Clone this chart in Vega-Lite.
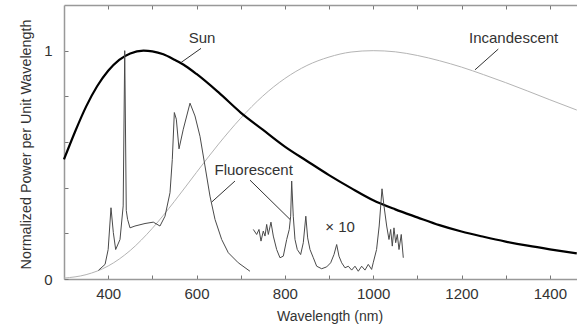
{
  "$schema": "https://vega.github.io/schema/vega-lite/v6.json",
  "width": 513,
  "height": 274,
  "autosize": {"type": "none"},
  "padding": {"left": 64, "top": 5, "right": 0, "bottom": 47},
  "background": "white",
  "config": {
    "view": {"stroke": null},
    "font": "Liberation Sans",
    "axis": {
      "grid": false,
      "domainColor": "#999999",
      "domainWidth": 1.5,
      "tickColor": "#777777",
      "tickWidth": 1,
      "tickSize": -4,
      "labelFont": "Liberation Sans",
      "labelFontSize": 15,
      "labelColor": "#333333",
      "titleFont": "Liberation Sans",
      "titleFontWeight": "normal",
      "titleColor": "#333333"
    }
  },
  "datasets": {
    "sun": [
      {"nm": 300, "val": 0.524}, {"nm": 325, "val": 0.645}, {"nm": 350, "val": 0.755},
      {"nm": 375, "val": 0.844}, {"nm": 400, "val": 0.912}, {"nm": 425, "val": 0.96},
      {"nm": 450, "val": 0.988}, {"nm": 480, "val": 1.0}, {"nm": 500, "val": 0.997},
      {"nm": 525, "val": 0.984}, {"nm": 550, "val": 0.96}, {"nm": 575, "val": 0.933},
      {"nm": 600, "val": 0.898}, {"nm": 650, "val": 0.817}, {"nm": 700, "val": 0.729},
      {"nm": 750, "val": 0.654}, {"nm": 800, "val": 0.58}, {"nm": 850, "val": 0.517},
      {"nm": 900, "val": 0.455}, {"nm": 950, "val": 0.398}, {"nm": 1000, "val": 0.345},
      {"nm": 1050, "val": 0.305}, {"nm": 1100, "val": 0.27}, {"nm": 1150, "val": 0.236},
      {"nm": 1200, "val": 0.208}, {"nm": 1250, "val": 0.185}, {"nm": 1300, "val": 0.164},
      {"nm": 1350, "val": 0.146}, {"nm": 1400, "val": 0.13}, {"nm": 1461, "val": 0.112}
    ],
    "inc": [
      {"nm": 300, "val": 0.004}, {"nm": 350, "val": 0.019}, {"nm": 400, "val": 0.057},
      {"nm": 450, "val": 0.125}, {"nm": 500, "val": 0.222}, {"nm": 550, "val": 0.34},
      {"nm": 600, "val": 0.467}, {"nm": 650, "val": 0.591}, {"nm": 700, "val": 0.704},
      {"nm": 750, "val": 0.801}, {"nm": 800, "val": 0.878}, {"nm": 850, "val": 0.935},
      {"nm": 900, "val": 0.972}, {"nm": 950, "val": 0.994}, {"nm": 1000, "val": 1.0},
      {"nm": 1050, "val": 0.995}, {"nm": 1100, "val": 0.979}, {"nm": 1150, "val": 0.956},
      {"nm": 1200, "val": 0.928}, {"nm": 1250, "val": 0.895}, {"nm": 1300, "val": 0.86},
      {"nm": 1350, "val": 0.823}, {"nm": 1400, "val": 0.785}, {"nm": 1461, "val": 0.74}
    ],
    "flu": [
      {"seg": "a", "nm": 378, "val": 0.038}, {"seg": "a", "nm": 393, "val": 0.064},
      {"seg": "a", "nm": 400, "val": 0.129}, {"seg": "a", "nm": 406.4, "val": 0.312},
      {"seg": "a", "nm": 411.7, "val": 0.203}, {"seg": "a", "nm": 417, "val": 0.129},
      {"seg": "a", "nm": 426.8, "val": 0.173}, {"seg": "a", "nm": 434, "val": 0.32},
      {"seg": "a", "nm": 437.5, "val": 1.0}, {"seg": "a", "nm": 441, "val": 0.3},
      {"seg": "a", "nm": 444, "val": 0.261}, {"seg": "a", "nm": 449.4, "val": 0.224},
      {"seg": "a", "nm": 460.7, "val": 0.232}, {"seg": "a", "nm": 483.4, "val": 0.243},
      {"seg": "a", "nm": 502.2, "val": 0.249}, {"seg": "a", "nm": 517.3, "val": 0.232},
      {"seg": "a", "nm": 528.7, "val": 0.275}, {"seg": "a", "nm": 540, "val": 0.378},
      {"seg": "a", "nm": 545.2, "val": 0.524}, {"seg": "a", "nm": 549.8, "val": 0.729},
      {"seg": "a", "nm": 554.3, "val": 0.7}, {"seg": "a", "nm": 560.4, "val": 0.57},
      {"seg": "a", "nm": 570.1, "val": 0.656}, {"seg": "a", "nm": 585.3, "val": 0.77},
      {"seg": "a", "nm": 596.6, "val": 0.714}, {"seg": "a", "nm": 607.9, "val": 0.625},
      {"seg": "a", "nm": 619.2, "val": 0.495}, {"seg": "a", "nm": 630.5, "val": 0.363},
      {"seg": "a", "nm": 641.9, "val": 0.261}, {"seg": "a", "nm": 657, "val": 0.173},
      {"seg": "a", "nm": 672, "val": 0.115}, {"seg": "a", "nm": 694.6, "val": 0.071},
      {"seg": "a", "nm": 721, "val": 0.034},
      {"seg": "b", "nm": 728.6, "val": 0.217}, {"seg": "b", "nm": 736.2, "val": 0.195},
      {"seg": "b", "nm": 741.5, "val": 0.217}, {"seg": "b", "nm": 746, "val": 0.166},
      {"seg": "b", "nm": 751.2, "val": 0.21}, {"seg": "b", "nm": 755.1, "val": 0.188},
      {"seg": "b", "nm": 758.9, "val": 0.239}, {"seg": "b", "nm": 762.6, "val": 0.195},
      {"seg": "b", "nm": 768.6, "val": 0.249}, {"seg": "b", "nm": 773.9, "val": 0.188},
      {"seg": "b", "nm": 781.5, "val": 0.129}, {"seg": "b", "nm": 789, "val": 0.093},
      {"seg": "b", "nm": 796.5, "val": 0.1}, {"seg": "b", "nm": 804.2, "val": 0.173},
      {"seg": "b", "nm": 810, "val": 0.217}, {"seg": "b", "nm": 813.2, "val": 0.275},
      {"seg": "b", "nm": 815.5, "val": 0.429}, {"seg": "b", "nm": 819.1, "val": 0.275},
      {"seg": "b", "nm": 823, "val": 0.173}, {"seg": "b", "nm": 828.2, "val": 0.129},
      {"seg": "b", "nm": 835.8, "val": 0.107}, {"seg": "b", "nm": 841.8, "val": 0.159},
      {"seg": "b", "nm": 847.5, "val": 0.275}, {"seg": "b", "nm": 851.7, "val": 0.18},
      {"seg": "b", "nm": 857, "val": 0.129}, {"seg": "b", "nm": 864.5, "val": 0.093},
      {"seg": "b", "nm": 872.1, "val": 0.056}, {"seg": "b", "nm": 883.4, "val": 0.045},
      {"seg": "b", "nm": 894.7, "val": 0.053}, {"seg": "b", "nm": 903.8, "val": 0.071},
      {"seg": "b", "nm": 911.3, "val": 0.107}, {"seg": "b", "nm": 917.4, "val": 0.151},
      {"seg": "b", "nm": 922.6, "val": 0.1}, {"seg": "b", "nm": 928.7, "val": 0.071},
      {"seg": "b", "nm": 936.2, "val": 0.049}, {"seg": "b", "nm": 943.7, "val": 0.056},
      {"seg": "b", "nm": 951.3, "val": 0.039}, {"seg": "b", "nm": 958.8, "val": 0.056},
      {"seg": "b", "nm": 966.3, "val": 0.034}, {"seg": "b", "nm": 973.9, "val": 0.056},
      {"seg": "b", "nm": 981.4, "val": 0.039}, {"seg": "b", "nm": 988.9, "val": 0.064},
      {"seg": "b", "nm": 996.5, "val": 0.042}, {"seg": "b", "nm": 1000.1, "val": 0.071},
      {"seg": "b", "nm": 1007.7, "val": 0.129}, {"seg": "b", "nm": 1013.6, "val": 0.232},
      {"seg": "b", "nm": 1020, "val": 0.395}, {"seg": "b", "nm": 1024.5, "val": 0.32},
      {"seg": "b", "nm": 1030.6, "val": 0.232}, {"seg": "b", "nm": 1035.8, "val": 0.173},
      {"seg": "b", "nm": 1039.6, "val": 0.217}, {"seg": "b", "nm": 1043.3, "val": 0.144},
      {"seg": "b", "nm": 1047.1, "val": 0.224}, {"seg": "b", "nm": 1051, "val": 0.159},
      {"seg": "b", "nm": 1054.6, "val": 0.195}, {"seg": "b", "nm": 1058.5, "val": 0.129},
      {"seg": "b", "nm": 1063.6, "val": 0.195}, {"seg": "b", "nm": 1068.2, "val": 0.093}
    ],
    "leaders": [
      {"nm": 610.2, "val": 1.01, "nm2": 564.9, "val2": 0.948},
      {"nm": 1283.3, "val": 1.007, "nm2": 1230.5, "val2": 0.916},
      {"nm": 687.1, "val": 0.429, "nm2": 634.4, "val2": 0.337},
      {"nm": 721.1, "val": 0.433, "nm2": 811.7, "val2": 0.261}
    ],
    "labels": [
      {"nm": 612.4, "val": 1.055, "text": "Sun"},
      {"nm": 1318, "val": 1.055, "text": "Incandescent"},
      {"nm": 729.5, "val": 0.477, "text": "Fluorescent"},
      {"nm": 925, "val": 0.227, "text": "× 10"}
    ]
  },
  "resolve": {"axis": {"x": "independent"}},
  "layer": [
    {
      "data": {"name": "inc"},
      "mark": {"type": "line", "color": "#b4b4b4", "strokeWidth": 1, "interpolate": "monotone"},
      "encoding": {
        "x": {
          "field": "nm", "type": "quantitative",
          "scale": {"domain": [300, 1461.5], "nice": false, "zero": false},
          "axis": {
            "orient": "bottom",
            "values": [400, 500, 600, 700, 800, 900, 1000, 1100, 1200, 1300, 1400],
            "format": "d",
            "labelExpr": "datum.value % 200 == 0 ? datum.label : ''",
            "labelPadding": 11,
            "title": "Wavelength (nm)",
            "titleFontSize": 14,
            "titleX": 265.5,
            "titleY": 37,
            "titleAlign": "center",
            "titleBaseline": "middle"
          }
        },
        "y": {
          "field": "val", "type": "quantitative",
          "scale": {"domain": [0, 1.2], "nice": false, "zero": true},
          "axis": {
            "values": [0, 0.2, 0.4, 0.6, 0.8, 1],
            "labelExpr": "datum.value == 0 ? '0' : (datum.value == 1 ? '1' : '')",
            "labelPadding": 16,
            "title": "Normalized Power per Unit Wavelength",
            "titleFontSize": 14.3,
            "titleAngle": -90,
            "titleX": -38,
            "titleY": 139,
            "titleAlign": "center",
            "titleBaseline": "middle"
          }
        }
      }
    },
    {
      "data": {"name": "sun"},
      "mark": {"type": "line", "color": "#000000", "strokeWidth": 2.2, "interpolate": "monotone"},
      "encoding": {
        "x": {
          "field": "nm", "type": "quantitative",
          "axis": {
            "orient": "top",
            "values": [400, 500, 600, 700, 800, 900, 1000, 1100, 1200, 1300, 1400],
            "labels": false,
            "title": null
          }
        },
        "y": {"field": "val", "type": "quantitative"}
      }
    },
    {
      "data": {"name": "flu"},
      "mark": {"type": "line", "color": "#4a4a4a", "strokeWidth": 1},
      "encoding": {
        "x": {"field": "nm", "type": "quantitative", "axis": null},
        "y": {"field": "val", "type": "quantitative"},
        "detail": {"field": "seg", "type": "nominal"}
      }
    },
    {
      "data": {"name": "leaders"},
      "mark": {"type": "rule", "color": "#333333", "strokeWidth": 1},
      "encoding": {
        "x": {"field": "nm", "type": "quantitative", "axis": null},
        "y": {"field": "val", "type": "quantitative"},
        "x2": {"field": "nm2"},
        "y2": {"field": "val2"}
      }
    },
    {
      "data": {"name": "labels"},
      "mark": {"type": "text", "fontSize": 15, "color": "#333333", "font": "Liberation Sans", "align": "center", "baseline": "middle"},
      "encoding": {
        "x": {"field": "nm", "type": "quantitative", "axis": null},
        "y": {"field": "val", "type": "quantitative"},
        "text": {"field": "text"}
      }
    }
  ]
}
